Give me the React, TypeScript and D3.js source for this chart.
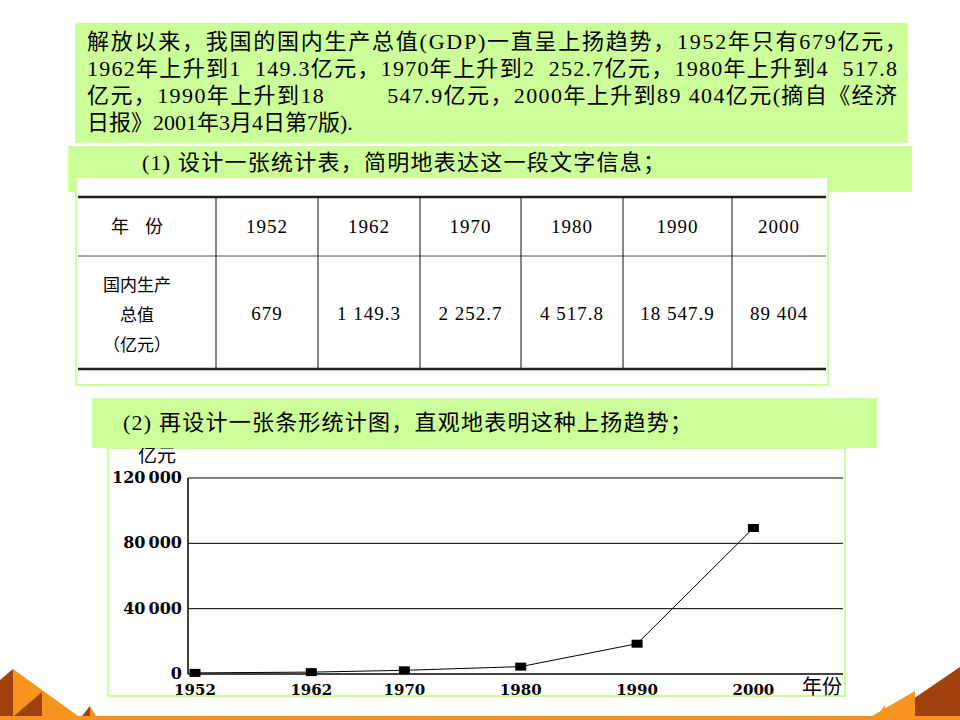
import * as d3 from "d3";

const years = [1952, 1962, 1970, 1980, 1990, 2000];
const gdp = [679, 1149.3, 2252.7, 4517.8, 18547.9, 89404];
const gdpText = ["679", "1 149.3", "2 252.7", "4 517.8", "18 547.9", "89 404"];
const yTicks = [0, 40000, 80000, 120000];

const introLines = [
  "解放以来，我国的国内生产总值(GDP)一直呈上扬趋势，1952年只有679亿元，",
  "1962年上升到1  149.3亿元，1970年上升到2  252.7亿元，1980年上升到4  517.8",
  "亿元，1990年上升到18         547.9亿元，2000年上升到89 404亿元(摘自《经济",
  "日报》2001年3月4日第7版).",
];
const introWidths = [820, 810, 810, null];
const task1 = "(1) 设计一张统计表，简明地表达这一段文字信息；";
const task2 = "(2) 再设计一张条形统计图，直观地表明这种上扬趋势；";

const GREEN = "#ccff99";
const SERIF = "'Liberation Serif', 'Noto Sans CJK SC', serif";
const CJK = "'Noto Sans CJK SC', sans-serif";
const NUM = "'DejaVu Serif', serif";

// table column edges (layout only)
const colEdges = [78, 216, 318, 420, 521, 623, 732, 826];

export default function App() {
  const x = d3.scaleLinear().domain([1951.4, 2007.7]).range([188, 843]);
  const y = d3.scaleLinear().domain([0, 120000]).range([674, 478]);
  const fmt = (v: number) => d3.format(",")(v).replace(/,/g, "\u2009");

  const pts = years.map((yr, i) => ({ yr, v: gdp[i] }));
  const line = d3
    .line<{ yr: number; v: number }>()
    .x((d) => x(d.yr))
    .y((d) => y(d.v));

  const colCenter = (i: number) => (colEdges[i] + colEdges[i + 1]) / 2;

  return (
    <svg
      width={960}
      height={720}
      style={{ position: "absolute", left: 0, top: 0, background: "#fff" }}
    >
      {/* intro text box */}
      <rect x={75} y={23} width={833} height={120} fill={GREEN} />
      {introLines.map((t, i) => (
        <text
          key={i}
          x={87}
          y={49 + i * 27}
          fontFamily={SERIF}
          fontSize={22}
          style={{ whiteSpace: "pre" }}
          textLength={introWidths[i] ?? undefined}
          lengthAdjust="spacing"
        >
          {t}
        </text>
      ))}

      {/* task 1 */}
      <rect x={68} y={146} width={844} height={46} fill={GREEN} />
      <text x={142} y={170} fontFamily={SERIF} fontSize={22} textLength={523} lengthAdjust="spacing">
        {task1}
      </text>

      {/* table */}
      <rect x={76} y={177} width={752} height={208} fill="#fff" stroke={GREEN} strokeWidth={2} />
      <line x1={colEdges[0]} x2={colEdges[7]} y1={197} y2={197} stroke="#222" strokeWidth={2.5} />
      <line x1={colEdges[0]} x2={colEdges[7]} y1={256} y2={256} stroke="#555" strokeWidth={1} />
      <line x1={colEdges[0]} x2={colEdges[7]} y1={369} y2={369} stroke="#222" strokeWidth={2.5} />
      {colEdges.slice(1, 7).map((cx) => (
        <line key={cx} x1={cx} x2={cx} y1={197} y2={369} stroke="#111" strokeWidth={1} />
      ))}
      <text x={colCenter(0) - 10} y={233} textAnchor="middle" fontFamily={CJK} fontSize={18} style={{ whiteSpace: "pre" }}>
        {"年    份"}
      </text>
      {years.map((yr, i) => (
        <text
          key={yr}
          x={colCenter(i + 1)}
          y={233}
          textAnchor="middle"
          fontFamily={SERIF}
          fontSize={19}
          letterSpacing={1}
        >
          {yr}
        </text>
      ))}
      {["国内生产", "总值", "（亿元）"].map((t, i) => (
        <text key={t} x={colCenter(0) - 10} y={291 + i * 30} textAnchor="middle" fontFamily={CJK} fontSize={17}>
          {t}
        </text>
      ))}
      {gdpText.map((t, i) => (
        <text
          key={t}
          x={colCenter(i + 1)}
          y={320}
          textAnchor="middle"
          fontFamily={SERIF}
          fontSize={19}
          letterSpacing={1}
        >
          {t}
        </text>
      ))}

      {/* chart */}
      <rect x={108} y={448} width={737} height={248} fill="#fff" stroke={GREEN} strokeWidth={2} />
      <text x={157} y={462} textAnchor="middle" fontFamily={CJK} fontSize={19}>
        亿元
      </text>
      {yTicks
        .filter((t) => t > 0)
        .map((t) => (
          <line key={t} x1={x.range()[0]} x2={x.range()[1]} y1={y(t)} y2={y(t)} stroke="#000" strokeWidth={1} />
        ))}
      <line x1={x.range()[0]} x2={x.range()[0]} y1={y(120000)} y2={y(0)} stroke="#000" strokeWidth={1.5} />
      <line x1={x.range()[0]} x2={x.range()[1]} y1={y(0)} y2={y(0)} stroke="#444" strokeWidth={2} />
      {yTicks.map((t) => (
        <text key={t} x={182} y={y(t) + 5} textAnchor="end" fontFamily={NUM} fontWeight="bold" fontSize={16}>
          {fmt(t)}
        </text>
      ))}
      <path d={line(pts) ?? ""} fill="none" stroke="#000" strokeWidth={1} />
      {pts.map((d) => (
        <rect key={d.yr} x={x(d.yr) - 5.5} y={y(d.v) - 4} width={11} height={8} fill="#000" />
      ))}
      {years.map((yr) => (
        <text key={yr} x={x(yr)} y={695} textAnchor="middle" fontFamily={NUM} fontWeight="bold" fontSize={15}>
          {yr}
        </text>
      ))}
      <text x={842} y={694} textAnchor="end" fontFamily={CJK} fontSize={20}>
        年份
      </text>

      {/* task 2 */}
      <rect x={92} y={398} width={785} height={50} fill={GREEN} />
      <text x={123} y={430} fontFamily={SERIF} fontSize={22} textLength={569} lengthAdjust="spacing">
        {task2}
      </text>

      {/* footer decoration */}
      <rect x={0} y={716} width={960} height={4} fill="#f7941d" />
      <polygon points="13,669 78,716 13,716" fill="#f7941d" />
      <polygon points="0,680 13,669 13,716 0,716" fill="#a0410d" />
      <polygon points="42,692 14,716 42,716" fill="#a0410d" />
      <polygon points="90,706 82,716 90,716" fill="#a0410d" />
      <polygon points="90,706 96,716 90,716" fill="#f7941d" />
      <polygon points="888,716 960,667 960,716" fill="#a0410d" />
      <polygon points="872,716 915,691 915,716" fill="#f7941d" />
      <polygon points="885,705 877,716 885,716" fill="#f7941d" />
    </svg>
  );
}
